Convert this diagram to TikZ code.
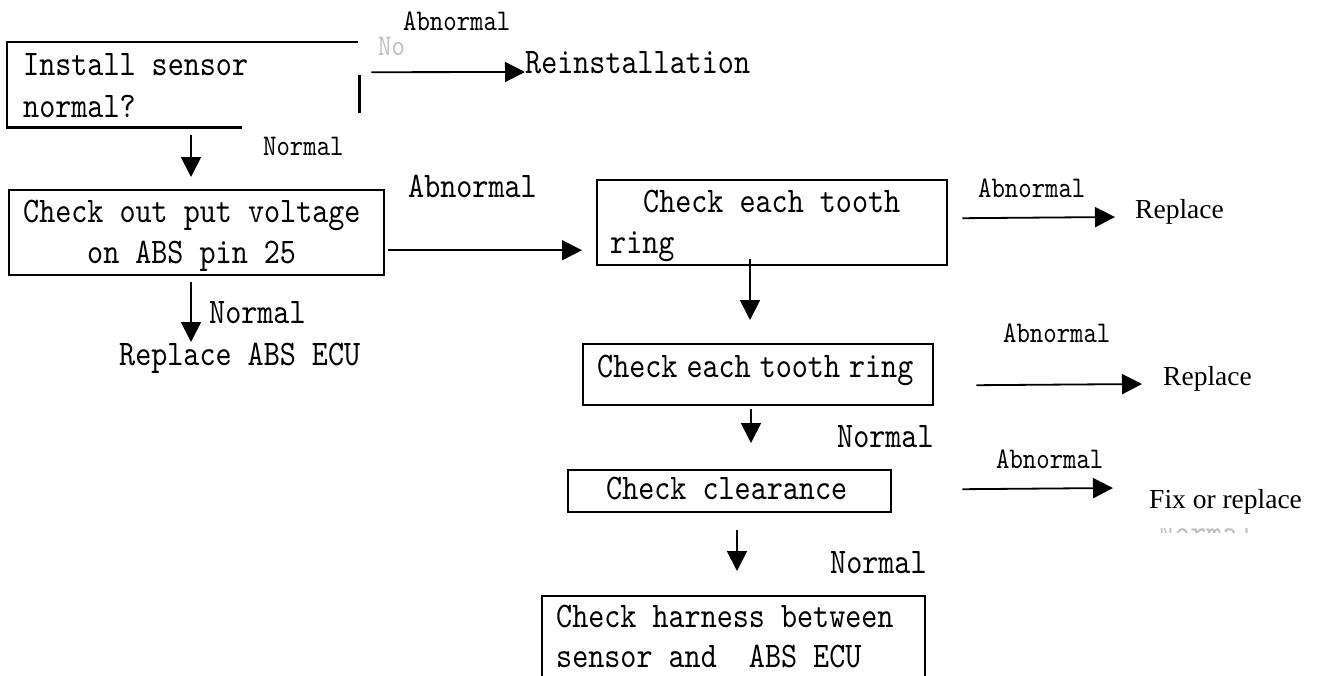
\documentclass[tikz,border=0pt]{standalone}
\usepackage{fontspec}
\usetikzlibrary{arrows.meta,calc}
\newfontfamily\simmono{lmmono10-regular.otf}[FakeStretch=0.85]
\newfontfamily\timesf{Liberation Serif}
\newcommand\boxfont{\simmono\fontsize{36}{42}\selectfont}
\newcommand\smallfont{\simmono\fontsize{30}{36}\selectfont}
\newcommand\serfont{\timesf\fontsize{27.5}{33}\selectfont}
\tikzset{
  boxnode/.style={rectangle, draw, line width=2.4pt, inner sep=0pt, anchor=north west},
  edge/.style={line width=2.4pt},
  txt/.style={inner sep=0pt, anchor=base west, font=\boxfont},
  small/.style={inner sep=0pt, anchor=base west, font=\smallfont},
  serif/.style={inner sep=0pt, anchor=base west, font=\serfont},
  faint/.style={inner sep=0pt, anchor=base west, text=black!25},
  arr/.style={line width=1.8pt, -{Triangle[length=20pt,width=20pt]}},
}
\begin{document}
\begin{tikzpicture}[x=1pt,y=-1pt]
\clip (0,0) rectangle (1323,675);
\fill[white] (0,0) rectangle (1323,675);

% box 1 (partial outline)
\node[rectangle, inner sep=0pt, anchor=north west, minimum width=351pt, minimum height=85pt] (b1) at (7,42) {};
\draw[edge] (b1.south west) ++(235,0) -- (b1.south west) -- (b1.north west) -- (b1.north east);
\draw[edge] ($(b1.north east)+(1,33)$) -- ($(b1.north east)+(1,71)$);
\node[txt] (t1a) at (23,75) {Install sensor};
\node[txt] (t1b) at (23,117) {normal?};

\node[small] (abn1) at (403,30) {Abnormal};
\begin{scope}
  \clip (376,36) rectangle (416,54);
  \node[faint, font=\smallfont] (no1) at (378,55) {No};
\end{scope}
\node[txt] (reinst) at (525,73) {Reinstallation};
\node[small] (nor1) at (263,155) {Normal};

% box 2
\node[boxnode, minimum width=375pt, minimum height=85pt] (b2) at (8,189) {};
\node[txt] (t2a) at (23,222) {Check out put voltage};
\node[txt] (t2b) at (87,263) {on ABS pin 25};
\node[txt] (abn2) at (408,197) {Abnormal};
\node[txt] (nor2) at (209,323) {Normal};
\node[txt] (repecu) at (119,365) {Replace ABS ECU};

% box 3
\node[boxnode, minimum width=350pt, minimum height=85pt] (b3) at (596,179) {};
\node[txt] (t3a) at (643,212) {Check each tooth};
\node[txt] (t3b) at (610,253) {ring};
\node[small] (abn3) at (978,197) {Abnormal};
\node[serif] (rep1) at (1135,218) {Replace};

% box 4
\node[boxnode, minimum width=350pt, minimum height=61pt] (b4) at (582,343) {};
\node[txt] (t4) at (597,377) {Check\hspace{9pt}each\hspace{9pt}tooth\hspace{9pt}ring};
\node[small] (abn4) at (1003,342) {Abnormal};
\node[serif] (rep2) at (1163,385) {Replace};
\node[txt] (nor3) at (837,447) {Normal};

% box 5
\node[boxnode, minimum width=323pt, minimum height=42pt] (b5) at (567,469) {};
\node[txt] (t5) at (606,499) {Check clearance};
\node[small] (abn5) at (996,468) {Abnormal};
\node[serif] (fix) at (1149,508) {Fix or replace};
\begin{scope}
  \clip (1150,528) rectangle (1262,532);
  \node[faint, font=\boxfont] (frag) at (1158,544) {Normal};
\end{scope}
\node[txt] (nor4) at (830,573) {Normal};

% box 6
\node[boxnode, minimum width=383pt, minimum height=120pt] (b6) at (541,595) {};
\node[txt] (t6a) at (556,627) {Check harness between};
\node[txt] (t6b) at (556,667) {sensor and~~ABS ECU};

% connectors
\draw[arr] ($(b1.east)+(13,-12.5)$) -- ($(reinst.base west)+(0,-1)$);
\draw[arr] ($(b1.south west)+(184,8)$) -- ($(b2.north west)+(183,-12)$);
\draw[arr] ($(b2.east)+(3,17.5)$) -- ($(b3.west)+(-14,27.5)$);
\draw[arr] ($(b2.south west)+(183,6)$) -- ($(repecu.base west)+(72,-23)$);
\draw[arr] ($(b3.east)+(14,-4.5)$) -- ($(rep1.base west)+(-20,-1)$);
\draw[arr] ($(b3.south west)+(154,-7)$) -- ($(b4.north west)+(168,-23)$);
\draw[arr] ($(b4.east)+(42,10.5)$) -- ($(rep2.base west)+(-21,-1)$);
\draw[arr] ($(b4.south west)+(169,3)$) -- ($(b5.north west)+(184,-26)$);
\draw[arr] ($(b5.east)+(70,-2)$) -- ($(fix.base west)+(-36,-20)$);
\draw[arr] ($(b5.south west)+(170,17)$) -- ($(b6.north west)+(196,-24)$);
\end{tikzpicture}
\end{document}
